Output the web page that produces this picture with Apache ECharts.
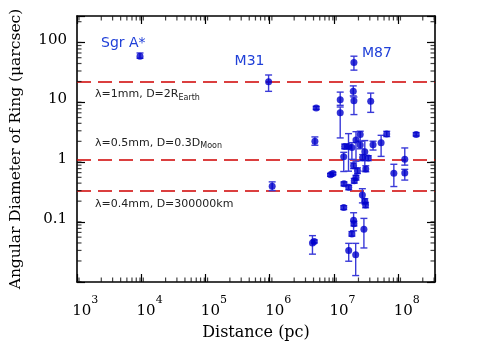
<!DOCTYPE html>
<html><head><meta charset="utf-8">
<script src="https://cdn.jsdelivr.net/npm/echarts@6/dist/echarts.min.js"></script>
<style>html,body{margin:0;padding:0;background:#fff}#c{width:478px;height:346px}</style>
</head><body><div id="c"></div>
<script>
// ---- data (distance in pc, ring angular diameter in micro-arcsec) ----
const distance = [8.0e3, 8.0e5, 9.1e5, 1.70e7, 4.4e6, 4.2e6, 3.85e6, 4.1e6, 1.04e7, 1.04e7,
  1.66e7, 1.70e7, 3.1e7, 5.5e7, 1.58e8, 4.5e7, 3.37e7, 2.13e7, 1.83e7, 2.13e7,
  1.22e7, 1.40e7, 1.58e7, 2.51e7, 1.18e7, 2.32e7, 2.84e7, 1.68e7, 1.93e7, 2.6e7,
  7.1e7, 1.05e8, 1.05e8, 7.35e6, 8.0e6, 1.19e7, 1.41e7, 1.72e7, 1.83e7, 2.30e7,
  2.51e7, 2.58e7, 1.18e7, 1.68e7, 1.70e7, 1.58e7, 2.43e7, 1.41e7, 1.81e7];
const diameter = [53, 19.8, 0.354, 41.7, 7.2, 2.0, 0.040, 0.0425, 9.9, 6.0,
  13.7, 9.55, 9.4, 2.64, 2.61, 1.89, 1.75, 2.59, 2.10, 1.74,
  1.64, 1.64, 1.58, 1.34, 1.10, 1.06, 1.05, 0.78, 0.645, 0.69,
  0.587, 1.0, 0.59, 0.55, 0.58, 0.39, 0.34, 0.44, 0.495, 0.254,
  0.20, 0.172, 0.156, 0.096, 0.084, 0.0565, 0.068, 0.030, 0.0254];
const errLow = [49, 13.7, 0.30, 31, 6.8, 1.72, 0.026, 0.040, 8.0, 2.28,
  11.5, 5.6, 6.1, 2.4, 2.45, 1.12, 1.43, 2.0, 0.93, 1.5,
  1.5, 0.634, 1.0, 0.634, 0.626, 0.95, 0.95, 0.70, 0.58, 0.62,
  0.351, 0.8, 0.45, 0.52, 0.55, 0.36, 0.31, 0.40, 0.45, 0.187,
  0.18, 0.155, 0.145, 0.064, 0.077, 0.052, 0.033, 0.0198, 0.0114];
const errHigh = [60, 25.7, 0.42, 53, 7.7, 2.37, 0.053, 0.045, 13.3, 7.5,
  16.9, 11, 12.8, 2.94, 2.8, 2.52, 2.01, 2.95, 2.9, 2.0,
  1.8, 2.69, 1.9, 2.06, 1.31, 1.2, 1.15, 0.87, 0.72, 0.78,
  0.827, 1.55, 0.68, 0.58, 0.61, 0.42, 0.37, 0.48, 0.54, 0.323,
  0.22, 0.19, 0.168, 0.128, 0.092, 0.062, 0.103, 0.0394, 0.0394];
const annotationNames = ['Sgr A*', 'M31', 'M87'];
const annotationIndex = [0, 1, 3];
const limitValues = [20, 1, 0.3];
const limitMain = ['λ=1mm, D=2R', 'λ=0.5mm, D=0.3D', 'λ=0.4mm, D=300000km'];
const limitSub = ['Earth', 'Moon', ''];
const xTickValues = [1e3, 1e4, 1e5, 1e6, 1e7, 1e8];
const yLabelValues = [0.1, 1, 10, 100];

const X_MIN = 838, X_MAX = 3.1e8, Y_MIN = 0.0089, Y_MAX = 249;

function minorTicks(e0, e1, lo, hi) {
  const out = [];
  for (let e = e0; e <= e1; e++) for (let k = 2; k <= 9; k++) {
    const v = parseFloat((k * Math.pow(10, e)).toPrecision(6));
    if (v > lo && v < hi) out.push(v);
  }
  return out;
}
const xMinor = minorTicks(2, 8, X_MIN, X_MAX);
const yMinor = minorTicks(-3, 2, Y_MIN, Y_MAX);

const serif = 'DejaVu Serif';
const sans = 'DejaVu Sans';
const black = '#000';

// frame axis with the library's own inward major ticks at each power of ten
function frameAxis(min, max, pos) {
  return {type: 'log', logBase: 10, min: min, max: max, position: pos, interval: 1,
    splitLine: {show: false}, minorTick: {show: false},
    axisLine: {show: true, onZero: false, lineStyle: {color: black, width: 1.6}},
    axisTick: {show: true, inside: true, length: 8, lineStyle: {color: black, width: 1.2}},
    axisLabel: {show: false}};
}

const xBottom = frameAxis(X_MIN, X_MAX, 'bottom');
xBottom.axisLabel = {show: true, customValues: xTickValues, margin: 13,
  formatter: v => { const e = Math.round(Math.log10(v)); return '{p|' + e + '}{b|10}{s|' + e + '}{h| }'; },
  rich: {
    p: {fontFamily: serif, fontSize: 11, color: 'rgba(0,0,0,0)', verticalAlign: 'top', lineHeight: 12},
    b: {fontFamily: serif, fontSize: 15, color: black, verticalAlign: 'bottom', lineHeight: 16},
    s: {fontFamily: serif, fontSize: 11, color: black, verticalAlign: 'top', lineHeight: 12},
    h: {fontSize: 1, lineHeight: 24, verticalAlign: 'top'}
  }};
xBottom.name = 'Distance (pc)';
xBottom.nameLocation = 'middle';
xBottom.nameGap = 43;
xBottom.nameTextStyle = {fontFamily: serif, fontSize: 16, color: black};

const yLeft = frameAxis(Y_MIN, Y_MAX, 'left');
yLeft.axisLabel = {show: true, customValues: yLabelValues, margin: 10,
  fontFamily: serif, fontSize: 15, color: black,
  formatter: v => { const e = Math.round(Math.log10(v)); return e < 0 ? Math.pow(10, e).toFixed(-e) : String(Math.round(Math.pow(10, e))); }};
yLeft.name = 'Angular Diameter of Ring (μarcsec)';
yLeft.nameLocation = 'middle';
yLeft.nameGap = 53;
yLeft.nameTextStyle = {fontFamily: serif, fontSize: 15.5, color: black};

// minor (2..9) ticks as thin rect symbols placed through the axis scales
const MINOR = 4.5, TW = 1.2;
function tickItems(vals, len, side) {
  return vals.map(v => {
    if (side === 'bottom') return {value: [v, Y_MIN], symbolSize: [TW, len], symbolOffset: [0, -len / 2]};
    if (side === 'top') return {value: [v, Y_MAX], symbolSize: [TW, len], symbolOffset: [0, len / 2]};
    if (side === 'left') return {value: [X_MIN, v], symbolSize: [len, TW], symbolOffset: [len / 2, 0]};
    return {value: [X_MAX, v], symbolSize: [len, TW], symbolOffset: [-len / 2, 0]};
  });
}
let tickData = [];
['bottom', 'top'].forEach(s => { tickData = tickData.concat(tickItems(xMinor, MINOR, s)); });
['left', 'right'].forEach(s => { tickData = tickData.concat(tickItems(yMinor, MINOR, s)); });

const chart = echarts.init(document.getElementById('c'), null, {renderer: 'canvas'});
const option = {
  animation: false,
  grid: {left: 73, right: 43, top: 16, bottom: 61},
  xAxis: [xBottom, frameAxis(X_MIN, X_MAX, 'top')],
  yAxis: [yLeft, frameAxis(Y_MIN, Y_MAX, 'right')],
  series: [
    { // minor frame ticks
      type: 'scatter', xAxisIndex: 0, yAxisIndex: 0, z: 6, clip: false,
      symbol: 'rect', itemStyle: {color: '#111'},
      data: tickData
    },
    { // error bars
      type: 'custom', xAxisIndex: 0, yAxisIndex: 0, z: 2,
      data: distance.map((d, i) => [d, errLow[i], errHigh[i]]),
      encode: {x: 0, y: [1, 2]},
      renderItem: (params, api) => {
        const x = api.value(0);
        const p1 = api.coord([x, api.value(1)]);
        const p2 = api.coord([x, api.value(2)]);
        const c = 3.5;
        const mk = (x1, y1, x2, y2) => ({type: 'line', shape: {x1: x1, y1: y1, x2: x2, y2: y2}, style: {stroke: '#3a3ad8', lineWidth: 1.4}});
        return {type: 'group', children: [
          mk(p1[0], p1[1], p2[0], p2[1]),
          mk(p1[0] - c, p1[1], p1[0] + c, p1[1]),
          mk(p2[0] - c, p2[1], p2[0] + c, p2[1])
        ]};
      }
    },
    {
      type: 'scatter', xAxisIndex: 0, yAxisIndex: 0, z: 3,
      symbol: 'circle', symbolSize: 7,
      itemStyle: {color: '#0000cc'},
      data: distance.map((d, i) => [d, diameter[i]]),
      markLine: {
        silent: true, symbol: ['none', 'none'], z: 1,
        lineStyle: {color: '#d00000', type: [14, 7], width: 1.5},
        label: {show: false},
        data: limitValues.map(v => ({yAxis: v}))
      }
    }
  ]
};
chart.setOption(option);

const toPx = (x, y) => chart.convertToPixel({xAxisIndex: 0, yAxisIndex: 0}, [x, y]);
const graphics = [];
const annOffsets = [[-39, -13], [-34, -20], [8, -9]];
annotationNames.forEach((n, k) => {
  const i = annotationIndex[k];
  const p = toPx(distance[i], diameter[i]);
  graphics.push({type: 'text', x: p[0] + annOffsets[k][0], y: p[1] + annOffsets[k][1],
    style: {text: n, fill: '#2040d8', fontFamily: sans, fontSize: 14, align: 'left', verticalAlign: 'middle'}});
});
const limOffsets = [13, -16, 14];
limitValues.forEach((v, k) => {
  const p = toPx(X_MIN, v);
  const txt = '{a|' + limitMain[k] + '}' + (limitSub[k] ? '{s|' + limitSub[k] + '}' : '');
  graphics.push({type: 'text', x: p[0] + 18, y: p[1] + limOffsets[k],
    style: {text: txt, align: 'left', verticalAlign: 'middle',
      rich: {
        a: {fontFamily: sans, fontSize: 11, fill: '#222', lineHeight: 14, verticalAlign: 'middle'},
        s: {fontFamily: sans, fontSize: 8, fill: '#222', lineHeight: 9, verticalAlign: 'bottom'}
      }}});
});
chart.setOption({graphic: graphics});
</script></body></html>
